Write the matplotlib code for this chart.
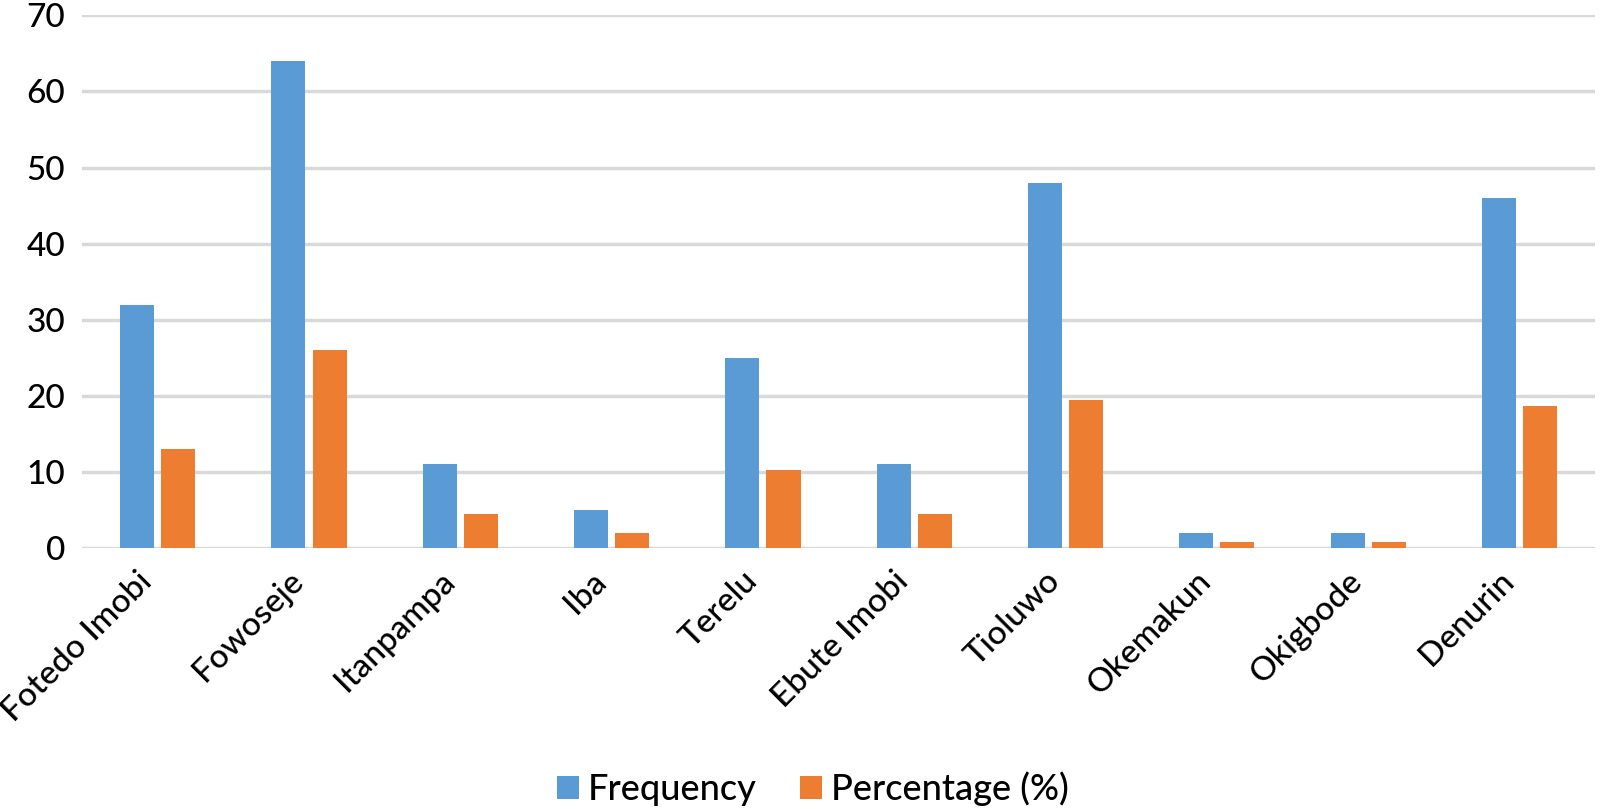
import matplotlib.pyplot as plt
import matplotlib.transforms as mtransforms
import numpy as np

plt.rcParams['font.family'] = ['Lato', 'DejaVu Sans']
plt.rcParams['font.weight'] = 'medium'

villages = ['Fotedo Imobi', 'Fowoseje', 'Itanpampa', 'Iba', 'Terelu',
            'Ebute Imobi', 'Tioluwo', 'Okemakun', 'Okigbode', 'Denurin']
frequency = [32, 64, 11, 5, 25, 11, 48, 2, 2, 46]
percentage = [13.0, 26.0, 4.5, 2.0, 10.2, 4.5, 19.5, 0.8, 0.8, 18.7]

blue = '#5B9BD5'
orange = '#ED7D31'

fig = plt.figure(figsize=(16, 8.09), dpi=100)
ax = fig.add_axes([0.05125, 0.3226, 0.9457, 0.6584])

x = np.arange(len(villages))
w = 0.225
off = 0.136
ax.bar(x - off, frequency, w, color=blue, label='Frequency', zorder=3)
ax.bar(x + off, percentage, w, color=orange, label='Percentage (%)', zorder=3)

ax.set_xlim(-0.5, len(villages) - 0.5)
ax.set_ylim(0, 70)
ax.set_yticks(range(0, 71, 10))
ax.yaxis.grid(True, color='#d9d9d9', linewidth=2.5, zorder=0)
ax.set_axisbelow(True)
for s in ax.spines.values():
    s.set_visible(False)
ax.tick_params(axis='both', length=0, labelsize=24)
ax.tick_params(axis='y', pad=12)

ax.set_xticks(x)
ax.set_xticklabels(villages, rotation=45, ha='right', va='top',
                   rotation_mode='anchor', fontsize=24)
shift = mtransforms.ScaledTranslation(-0.21, -0.13, fig.dpi_scale_trans)
for lbl in ax.get_xticklabels():
    lbl.set_transform(lbl.get_transform() + shift)

fig.legend(loc='center', bbox_to_anchor=(0.508, 0.025), ncol=2, frameon=False,
           fontsize=26, handlelength=0.6, handleheight=0.6, handletextpad=0.25,
           columnspacing=1.2)

fig.savefig('out.png', dpi=100)
